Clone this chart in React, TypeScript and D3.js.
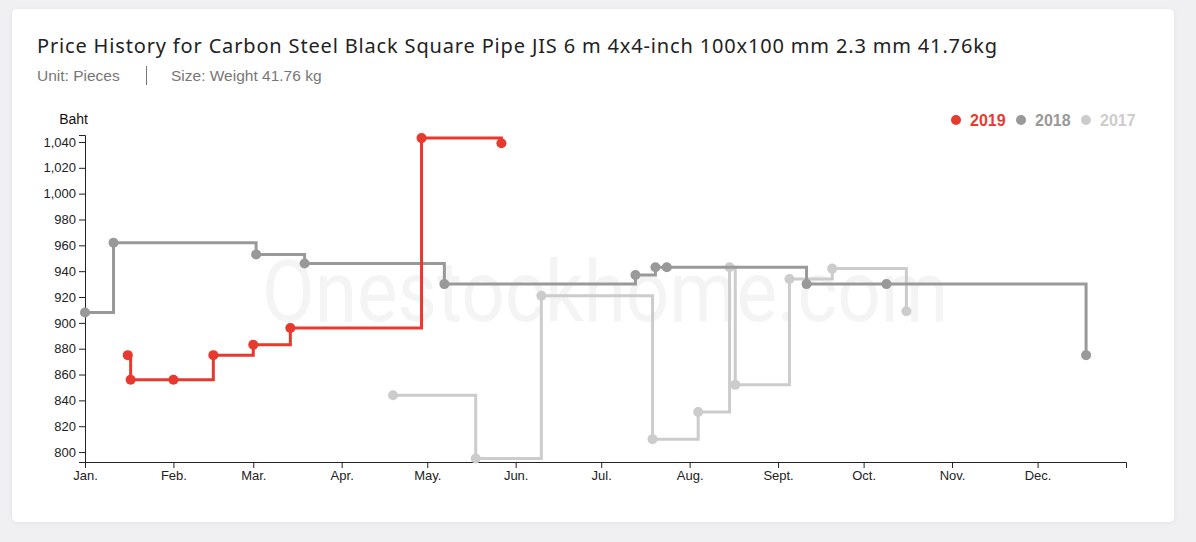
import { useEffect, useRef } from "react";
import * as d3 from "d3";

// shared calendar year so all series sit on the same Jan-Dec axis
const YEAR = 2019;

const dates2019 = ["01-16", "01-17", "02-01", "02-15", "03-01", "03-14", "04-29", "05-27"];
const prices2019 = [875, 856, 856, 875, 883, 896, 1043, 1039];

const dates2018 = ["01-01", "01-11", "03-02", "03-19", "05-07", "07-13", "07-20", "07-24", "09-11", "10-09", "12-18"];
const prices2018 = [908, 962, 953, 946, 930, 937, 943, 943, 930, 930, 875];

const dates2017 = ["04-19", "05-18", "06-10", "07-19", "08-04", "08-15", "08-17", "09-05", "09-20", "10-16"];
const prices2017 = [844, 795, 921, 810, 831, 943, 852, 934, 942, 909];

const yTicks = [800, 820, 840, 860, 880, 900, 920, 940, 960, 980, 1000, 1020, 1040];
const monthLabels = ["Jan.", "Feb.", "Mar.", "Apr.", "May.", "Jun.", "Jul.", "Aug.", "Sept.", "Oct.", "Nov.", "Dec."];

const seriesNames = ["2019", "2018", "2017"];
const seriesColors = ["#e8392f", "#999999", "#cccccc"];

const title = "Price History for Carbon Steel Black Square Pipe JIS 6 m 4x4-inch 100x100 mm 2.3 mm 41.76kg";
const unitText = "Unit: Pieces";
const sizeText = "Size: Weight 41.76 kg";

interface Point {
  date: Date;
  price: number;
}

const toPoints = (dates: string[], prices: number[]): Point[] =>
  dates.map((d, i) => ({ date: new Date(`${YEAR}-${d}T00:00:00`), price: prices[i] }));

const series = [
  toPoints(dates2019, prices2019),
  toPoints(dates2018, prices2018),
  toPoints(dates2017, prices2017),
];

const width = 1196;
const height = 542;
const margin = { top: 135, right: 70, bottom: 80, left: 85 };

export default function App() {
  const xAxisRef = useRef<SVGGElement>(null);
  const yAxisRef = useRef<SVGGElement>(null);

  const xScale = d3
    .scaleTime()
    .domain([new Date(`${YEAR}-01-01T00:00:00`), new Date(`${YEAR + 1}-01-01T00:00:00`)])
    .range([margin.left, width - margin.right]);

  const yScale = d3
    .scaleLinear()
    .domain([792.3, 1045.4])
    .range([height - margin.bottom, margin.top]);

  const line = d3
    .line<Point>()
    .x(d => xScale(d.date))
    .y(d => yScale(d.price))
    .curve(d3.curveStepAfter);

  useEffect(() => {
    if (!xAxisRef.current || !yAxisRef.current) return;

    const months = d3.timeMonth.range(xScale.domain()[0], xScale.domain()[1]);
    const xAxis = d3
      .axisBottom(xScale)
      .tickValues(months)
      .tickFormat((_, i) => monthLabels[i]);
    const yAxis = d3.axisLeft(yScale).tickValues(yTicks).tickFormat(d3.format(","));

    const gx = d3.select(xAxisRef.current);
    gx.selectAll("*").remove();
    gx.call(xAxis);

    const gy = d3.select(yAxisRef.current);
    gy.selectAll("*").remove();
    gy.call(yAxis);

    [gx, gy].forEach(g => {
      g.selectAll(".domain, .tick line").attr("stroke", "#222");
      g.selectAll("text")
        .attr("fill", "#222")
        .style("font-size", "13px")
        .style("font-family", "'Liberation Sans', Arial, sans-serif");
      g.attr("font-family", null);
    });
  }, []);

  const legendX = [956, 1021, 1086];

  return (
    <svg
      width={width}
      height={height}
      style={{ position: "absolute", left: 0, top: 0 }}
      fontFamily="'Liberation Sans', Arial, sans-serif"
    >
      <defs>
        <filter id="cardShadow" x="-5%" y="-5%" width="110%" height="110%">
          <feDropShadow dx="0" dy="1" stdDeviation="2" floodColor="#000" floodOpacity="0.06" />
        </filter>
      </defs>
      <rect x={0} y={0} width={width} height={height} fill="#f0f0f2" />
      <rect x={12} y={9} width={1162} height={513} rx={5} fill="#fff" filter="url(#cardShadow)" />

      <text x={37} y={53} fontSize={20} fill="#222" fontFamily="'Noto Sans', sans-serif" textLength={960} lengthAdjust="spacing">
        {title}
      </text>
      <text x={37} y={81} fontSize={15.5} fill="#777">
        {unitText}
      </text>
      <line x1={146.5} x2={146.5} y1={66} y2={85} stroke="#777" strokeWidth={1} />
      <text x={171} y={81} fontSize={15.5} fill="#777">
        {sizeText}
      </text>

      {/* watermark */}
      <text
        x={262}
        y={321}
        fontSize={86}
        fill="#f4f4f4"
        fontFamily="Roboto, sans-serif"
        textLength={686}
        lengthAdjust="spacingAndGlyphs"
      >
        Onestockhome.com
      </text>

      <text x={88} y={124} fontSize={14} fill="#111" textAnchor="end">
        Baht
      </text>

      <g ref={yAxisRef} transform={`translate(${margin.left},0)`} />
      <g ref={xAxisRef} transform={`translate(0,${height - margin.bottom})`} />

      {series
        .map((pts, i) => ({ pts, i }))
        .reverse()
        .map(({ pts, i }) => (
          <g key={seriesNames[i]}>
            <path d={line(pts) ?? ""} fill="none" stroke={seriesColors[i]} strokeWidth={3} />
            {pts.map((p, j) => (
              <circle key={j} cx={xScale(p.date)} cy={yScale(p.price)} r={5} fill={seriesColors[i]} />
            ))}
          </g>
        ))}

      {seriesNames.map((name, i) => (
        <g key={name} transform={`translate(${legendX[i]},120)`}>
          <circle cx={0} cy={0} r={5} fill={seriesColors[i]} />
          <text x={14} y={6} fontSize={16} fontWeight="bold" fill={seriesColors[i]}>
            {name}
          </text>
        </g>
      ))}
    </svg>
  );
}
